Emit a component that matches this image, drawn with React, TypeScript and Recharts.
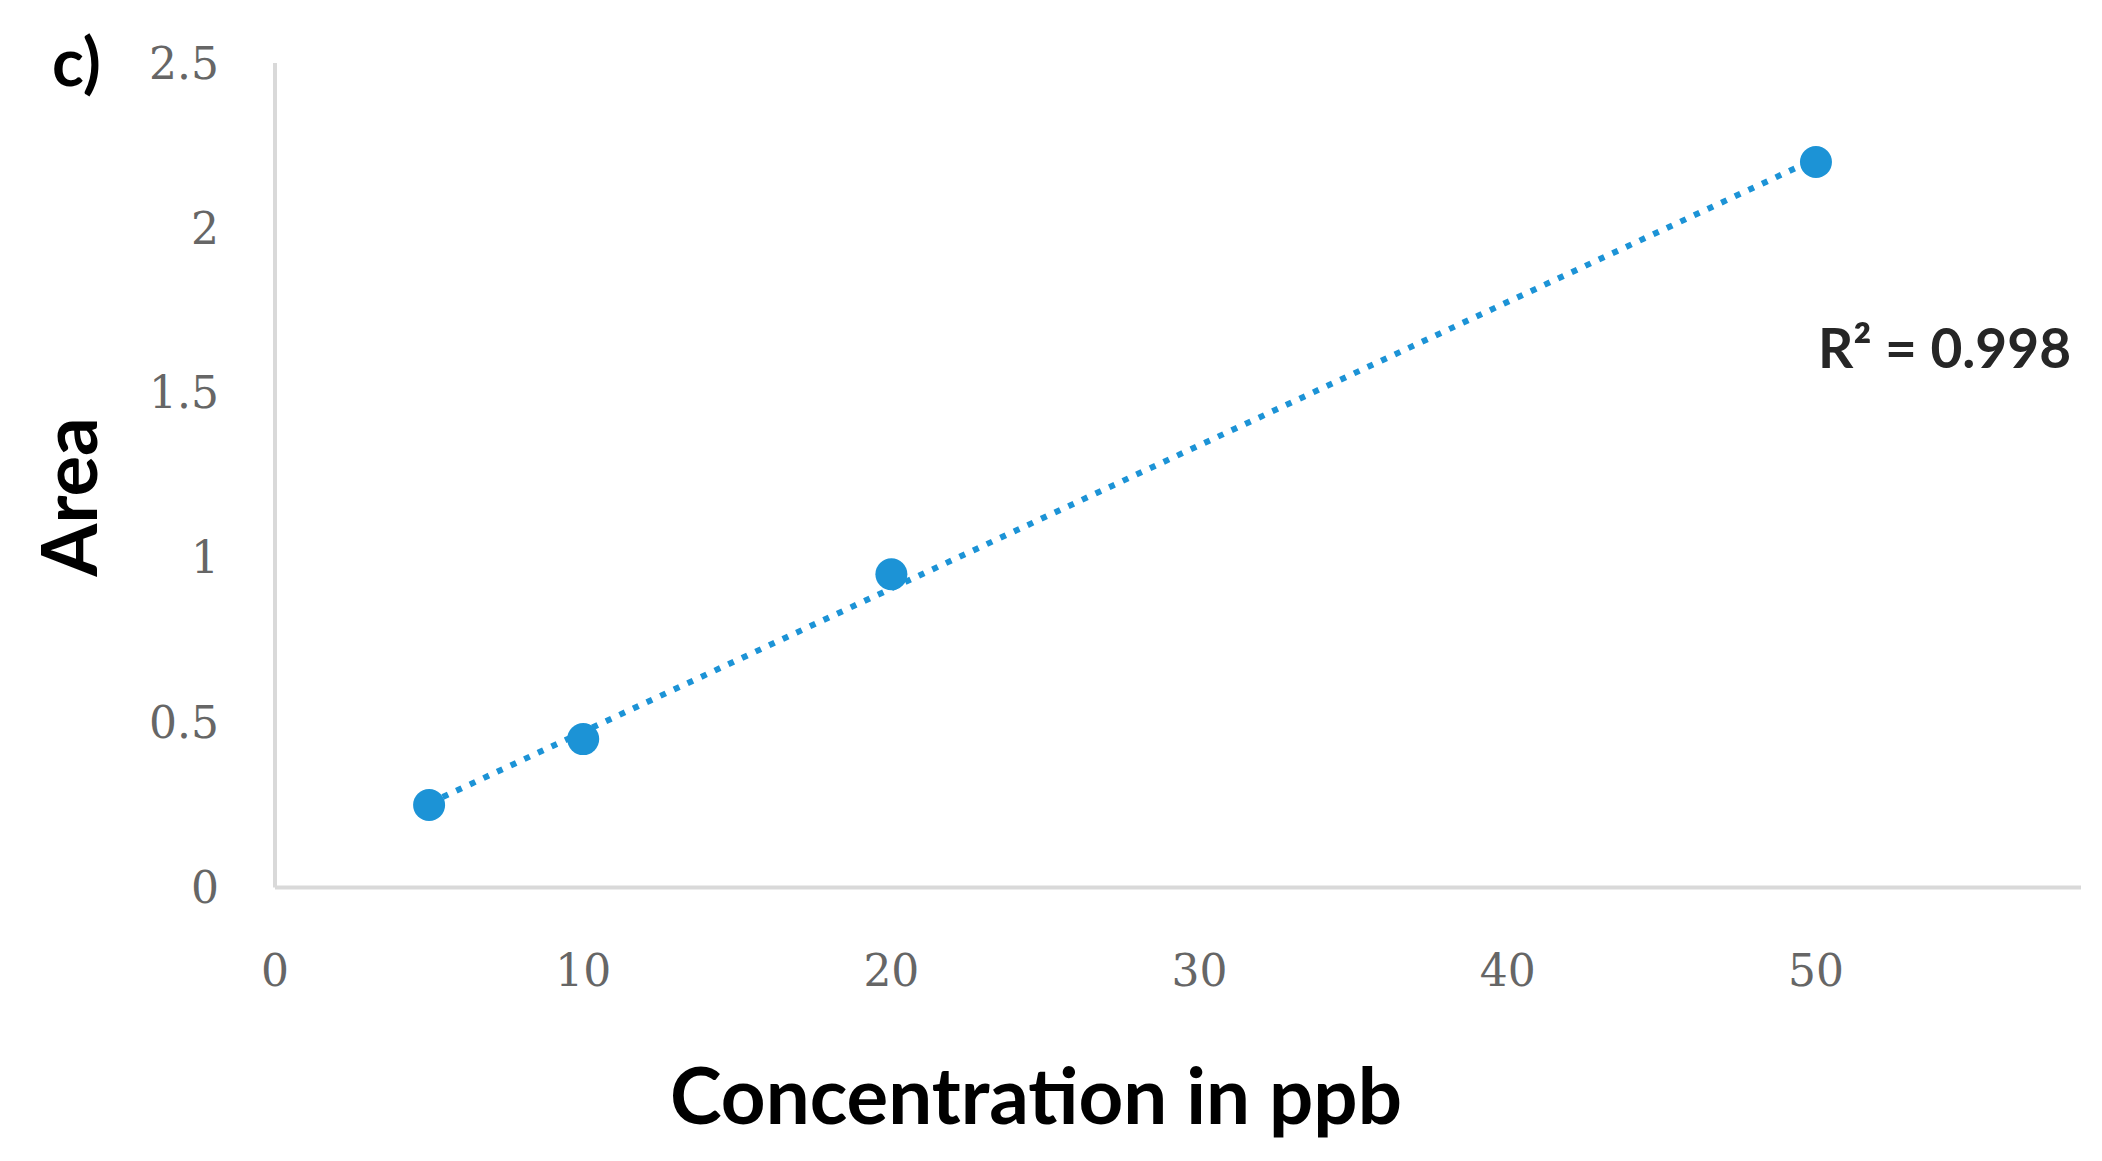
import { ScatterChart, Scatter, XAxis, YAxis } from 'recharts';

// calibration points
const concentration = [5, 10, 20, 50];
const area = [0.25, 0.45, 0.95, 2.2];

// dotted linear trend line, ends
const trendX = [5, 50];
const trendY = [0.255, 2.21];

const xTicks = [0, 10, 20, 30, 40, 50];
const yTicks = [0, 0.5, 1, 1.5, 2, 2.5];
const rSquared = '0.998';

const BLUE = '#1C93D6';
const AXIS = '#d9d9d9';
const tickStyle = { fontFamily: 'DejaVu Serif', fontSize: 44, fill: '#666' };

const points = concentration.map((x, i) => ({ x, y: area[i] }));
const trend = trendX.map((x, i) => ({ x, y: trendY[i] }));

const App = () => {
  return (
    <div style={{ position: 'absolute', left: 0, top: 0, width: 2102, height: 1161, background: '#fff' }}>
      <ScatterChart width={2102} height={1161} margin={{ top: 63, right: 21, bottom: 193.5, left: 175 }}>
        <XAxis
          type="number"
          dataKey="x"
          domain={[0, 58.6]}
          ticks={xTicks}
          tickLine={false}
          tickSize={0}
          tickMargin={67}
          height={80}
          axisLine={{ stroke: AXIS, strokeWidth: 4 }}
          tick={tickStyle}
        />
        <YAxis
          type="number"
          dataKey="y"
          domain={[0, 2.5]}
          ticks={yTicks}
          tickLine={false}
          tickSize={0}
          tickMargin={56}
          width={100}
          axisLine={{ stroke: AXIS, strokeWidth: 4 }}
          tick={tickStyle}
        />
        <Scatter
          data={trend}
          isAnimationActive={false}
          line={{ stroke: BLUE, strokeWidth: 6, strokeDasharray: '6 9' }}
          shape={() => <g />}
        />
        <Scatter
          data={points}
          isAnimationActive={false}
          fill={BLUE}
          shape={(p: any) => <circle cx={p.cx} cy={p.cy} r={16} fill={BLUE} />}
        />
      </ScatterChart>
      <svg width={2102} height={1161} style={{ position: 'absolute', left: 0, top: 0, pointerEvents: 'none' }}>
        <text x={52} y={86} fontFamily="Lato" fontWeight={700} fontSize={66} fill="#000">c)</text>
        <text
          x={97}
          y={497}
          transform="rotate(-90 97 497)"
          textAnchor="middle"
          fontFamily="Lato"
          fontWeight={700}
          fontSize={76}
          fill="#000"
        >
          Area
        </text>
        <text x={1036} y={1124} textAnchor="middle" fontFamily="Lato" fontWeight={700} fontSize={78} fill="#000">
          Concentration in ppb
        </text>
        <text x={1818} y={368} fontFamily="Lato" fontWeight={700} fontSize={55} fill="#262626">
          R² = {rSquared}
        </text>
      </svg>
    </div>
  );
};

export default App;
